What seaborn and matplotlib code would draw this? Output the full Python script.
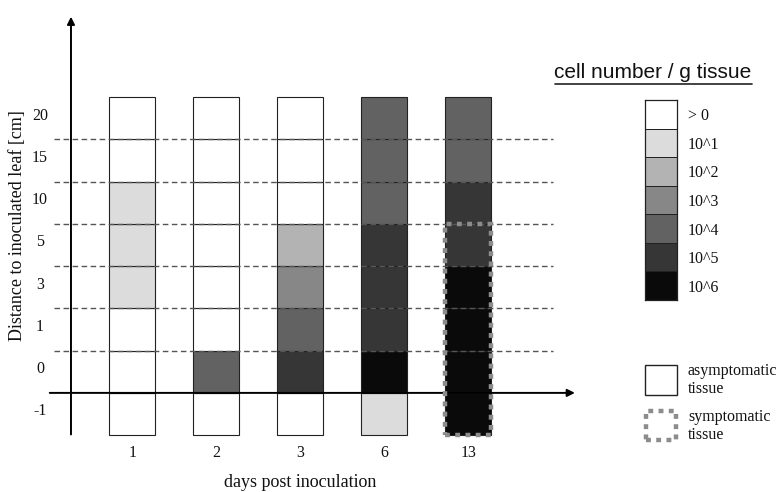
import numpy as np
import matplotlib
matplotlib.use("Agg")
import matplotlib.pyplot as plt
import seaborn as sns
from matplotlib.colors import ListedColormap
from matplotlib.patches import Rectangle
from matplotlib.lines import Line2D

# data
days = ["1", "2", "3", "6", "13"]
distances = ["-1", "0", "1", "3", "5", "10", "15", "20"]  # bottom -> top
# level index per cell (0 = >0, 1 = 10^1 ... 6 = 10^6), bottom -> top
day1 = [0, 0, 0, 1, 1, 1, 0, 0]
day2 = [0, 4, 0, 0, 0, 0, 0, 0]
day3 = [0, 5, 4, 3, 2, 0, 0, 0]
day6 = [1, 6, 5, 5, 5, 4, 4, 4]
day13 = [6, 6, 6, 6, 5, 5, 4, 4]
levels = [day1, day2, day3, day6, day13]
# symptomatic cells (only day 13, from -1 up to 5 cm)
symptomatic = [[0] * 8, [0] * 8, [0] * 8, [0] * 8, [1, 1, 1, 1, 1, 0, 0, 0]]
legend_labels = ["> 0", "10^1", "10^2", "10^3", "10^4", "10^5", "10^6"]
greys = ["#ffffff", "#dcdcdc", "#b3b3b3", "#878787", "#626262", "#363636", "#0a0a0a"]

sns.set_theme(style="white")
plt.rcParams['font.family'] = ['Liberation Serif', 'DejaVu Serif']

W, H = 778, 492
fig = plt.figure(figsize=(W / 100, H / 100), dpi=100)
ax = fig.add_axes([0, 0, 1, 1])
ax.set_xlim(-1.577, 7.685)
ax.set_ylim(-1.846, 9.80)
ax.axis('off')

rows = np.arange(len(distances))
cw = 0.548
for i, day in enumerate(days):
    ax.bar(np.full(len(rows), i), 1, bottom=rows - 0.5, width=cw,
           color=[greys[l] for l in levels[i]], edgecolor='#222222',
           linewidth=0.8, zorder=2)
    idx = [j for j, s in enumerate(symptomatic[i]) if s]
    if idx:
        lo, hi = min(idx), max(idx)
        ax.add_patch(Rectangle((i - cw / 2, lo - 0.5), cw, hi - lo + 1, fill=False,
                               edgecolor='#8c8c8c', lw=3.2, linestyle=(0, (1.1, 1.2)),
                               zorder=5))

# dashed guides between rows
ax.hlines(rows[1:-1] + 0.5, -0.935, 5.006, colors='#555555',
          linestyles=(0, (4, 2.5)), lw=1.0, zorder=4)

# axes with arrows
ax.annotate('', xy=(-0.732, 9.47), xytext=(-0.732, -0.55),
            arrowprops=dict(arrowstyle='-|>', color='black', lw=1.4, mutation_scale=11), zorder=3)
ax.annotate('', xy=(5.30, 0.5), xytext=(-1.018, 0.5),
            arrowprops=dict(arrowstyle='-|>', color='black', lw=1.4, mutation_scale=11), zorder=3)

for j, d in enumerate(distances):
    ax.text(-1.10, j + 0.06, d, ha='center', va='center', fontsize=11.5, color='#111111')
for i, day in enumerate(days):
    ax.text(i, -0.92, day, ha='center', va='center', fontsize=11.5, color='#111111')
ax.text(1.994, -1.61, "days post inoculation", ha='center', va='center', fontsize=13, color='#111111')
ax.text(-1.363, 4.45, "Distance to inoculated leaf [cm]", ha='center', va='center',
        rotation=90, fontsize=13, color='#111111')

# legend of levels
lax = fig.add_axes([645 / W, 1 - 300 / H, 32 / W, 200 / H])
sns.heatmap(np.arange(len(legend_labels))[:, None], ax=lax, cmap=ListedColormap(greys),
            vmin=-0.5, vmax=6.5, cbar=False, linewidths=0.7, linecolor='#222222',
            xticklabels=False, yticklabels=legend_labels)
lax.yaxis.tick_right()
lax.tick_params(axis='y', length=0, pad=8, labelsize=11.5, labelrotation=0, labelcolor='#111111')
for sp in lax.spines.values():
    sp.set_visible(True)
    sp.set_linewidth(0.9)
    sp.set_color('#222222')

fig.text(653 / W, 1 - 72 / H, "cell number / g tissue", ha='center', va='center',
         fontsize=15, family=['Liberation Sans', 'DejaVu Sans'], color='#111111')
fig.add_artist(Line2D([555 / W, 752 / W], [1 - 84 / H, 1 - 84 / H], color='#222222', lw=1.2))

fig.add_artist(Rectangle((645 / W, 1 - 395 / H), 32 / W, 30 / H, transform=fig.transFigure,
                         fill=False, edgecolor='#222222', lw=1))
fig.add_artist(Rectangle((646 / W, 1 - 440 / H), 30 / W, 29 / H, transform=fig.transFigure,
                         fill=False, edgecolor='#8c8c8c', lw=3.2, linestyle=(0, (1.1, 1.2))))
fig.text(688 / W, 1 - 380 / H, "asymptomatic\ntissue", ha='left', va='center',
         fontsize=11.5, linespacing=1.15, color='#111111')
fig.text(688 / W, 1 - 426 / H, "symptomatic\ntissue", ha='left', va='center',
         fontsize=11.5, linespacing=1.15, color='#111111')

fig.savefig("out.png", dpi=100)
